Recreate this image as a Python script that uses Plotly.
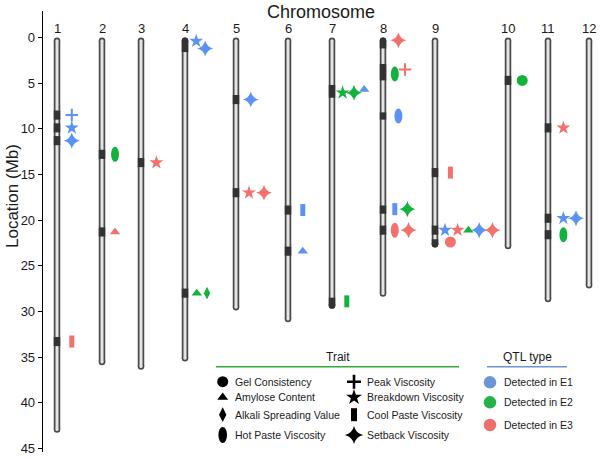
import plotly.graph_objects as go

# ---------------- data ----------------
chrom_labels = ['1', '2', '3', '4', '5', '6', '7', '8', '9', '10', '11', '12']
chrom_x = [57, 102, 141, 185, 236, 288, 332, 383, 435, 508, 548, 589]
chrom_len = [43.3, 35.9, 36.4, 35.5, 29.9, 31.2, 29.7, 28.4, 23.0, 23.2, 29.0, 27.5]

band_chr = [1, 1, 1, 1, 2, 2, 3, 4, 4, 5, 5, 6, 6, 7, 7, 8, 8, 8, 8, 8, 9, 9, 9, 10, 11, 11, 11]
band_start = [8.0, 9.4, 10.8, 32.8, 12.3, 20.8, 13.2, 0.0, 27.5, 6.3, 16.5, 18.4, 22.9, 5.2, 28.5,
              0.0, 2.9, 8.2, 18.4, 20.6, 14.3, 20.6, 22.1, 4.2, 9.4, 19.3, 21.1]
band_end = [9.0, 10.4, 11.8, 33.8, 13.3, 21.8, 14.2, 1.6, 28.5, 7.3, 17.5, 19.4, 23.9, 6.6, 29.5,
            1.2, 4.7, 9.0, 19.3, 21.6, 15.3, 21.6, 23.0, 5.2, 10.4, 20.3, 22.1]

qtl_chr = [1, 1, 1, 1,
           2, 2,
           3,
           4, 4, 4, 4,
           5, 5, 5,
           6, 6,
           7, 7, 7, 7,
           8, 8, 8, 8, 8, 8, 8, 8,
           9, 9, 9, 9, 9, 9, 9,
           10,
           11, 11, 11, 11]
qtl_pos = [8.5, 9.9, 11.3, 33.3,
           12.8, 21.3,
           13.7,
           0.4, 1.2, 28.0, 28.0,
           6.8, 17.0, 17.0,
           18.9, 23.4,
           6.05, 6.05, 5.7, 28.9,
           0.3, 4.0, 3.5, 8.6, 18.8, 18.8, 21.1, 21.1,
           14.8, 21.1, 21.1, 21.1, 21.1, 21.1, 22.4,
           4.7,
           9.9, 19.8, 19.8, 21.6]
qtl_trait = ['peak', 'breakdown', 'setback', 'cool',
             'hot', 'amylose',
             'breakdown',
             'breakdown', 'setback', 'amylose', 'alkali',
             'setback', 'breakdown', 'setback',
             'cool', 'amylose',
             'breakdown', 'setback', 'amylose', 'cool',
             'setback', 'hot', 'peak', 'hot', 'cool', 'setback', 'hot', 'setback',
             'cool', 'breakdown', 'breakdown', 'amylose', 'setback', 'setback', 'gel',
             'gel',
             'breakdown', 'breakdown', 'setback', 'hot']
qtl_env = ['E1', 'E1', 'E1', 'E3',
           'E2', 'E3',
           'E3',
           'E1', 'E1', 'E2', 'E2',
           'E1', 'E3', 'E3',
           'E1', 'E1',
           'E2', 'E2', 'E1', 'E2',
           'E3', 'E2', 'E3', 'E1', 'E1', 'E2', 'E3', 'E3',
           'E3', 'E1', 'E3', 'E2', 'E1', 'E3', 'E3',
           'E2',
           'E3', 'E1', 'E1', 'E2']
qtl_slot = [0.15, 0.15, 0.15, 0.15,
            0.0, 0.0,
            0.2,
            -0.15, 0.6, -0.1, 0.75,
            0.15, 0.0, 1.25,
            0.15, 0.15,
            -0.2, 0.75, 1.6, 0.15,
            0.2, -0.1, 0.75, 0.2, -0.1, 0.95, -0.1, 1.05,
            0.2, -0.25, 0.8, 1.7, 2.6, 3.7, 0.2,
            0.1,
            0.2, 0.2, 1.25, 0.2]

trait_names = ['Gel Consistency', 'Amylose Content', 'Alkali Spreading Value', 'Hot Paste Viscosity',
               'Peak Viscosity', 'Breakdown Viscosity', 'Cool Paste Viscosity', 'Setback Viscosity']
trait_keys = ['gel', 'amylose', 'alkali', 'hot', 'peak', 'breakdown', 'cool', 'setback']
env_keys = ['E1', 'E2', 'E3']
env_names = ['Detected in E1', 'Detected in E2', 'Detected in E3']

# ---------------- style ----------------
FONT = 'Arial, Liberation Sans, sans-serif'
TXT = '#1a1a1a'
ENV_COL = {'E1': '#5B93F2', 'E2': '#13B23C', 'E3': '#F2716C'}
ENV_LEG = {'E1': '#6C95D3', 'E2': '#26B04A', 'E3': '#EE6E69'}
SYM = {'gel': 'circle', 'amylose': 'triangle-up', 'alkali': 'diamond-tall',
       'peak': 'cross-thin', 'breakdown': 'star', 'setback': 'star-diamond'}
SIZE = {'gel': 11, 'amylose': 9, 'alkali': 9, 'peak': 9, 'breakdown': 10.5, 'setback': 11.5}
BASE_OFF, STEP = 13, 12
PX_PER_MB = 441 / 48.3
R = 3.25 / PX_PER_MB  # cap radius in Mb
L_M, T_M, PW, PH = 43, 11, 557, 441


def px_x(p):
    return (p - L_M) / PW


def px_y(p):
    return 1 - (p - T_M) / PH


fig = go.Figure()

# chromosomes: dark outer body, light inner body
ox, oy = [], []
for cx, L in zip(chrom_x, chrom_len):
    ox += [cx, cx, None]
    oy += [R, L - R, None]
fig.add_trace(go.Scatter(x=ox, y=oy, mode='lines+markers', line=dict(color='#4a4a4a', width=6.5),
                         marker=dict(color='#4a4a4a', size=6.5), hoverinfo='skip', showlegend=False))
fig.add_trace(go.Scatter(x=ox, y=oy, mode='lines+markers', line=dict(color='#e4e4e4', width=3),
                         marker=dict(color='#e4e4e4', size=3), hoverinfo='skip', showlegend=False))

# bands
bx, by, cxs, cys = [], [], [], []
for c, s, e in zip(band_chr, band_start, band_end):
    cx = chrom_x[c - 1]
    L = chrom_len[c - 1]
    s2, e2 = max(s, R), min(e, L - R)
    bx += [cx, cx, None]
    by += [s2, e2, None]
    if s < R:
        cxs.append(cx); cys.append(R)
    if e > L - R:
        cxs.append(cx); cys.append(L - R)
fig.add_trace(go.Scatter(x=bx, y=by, mode='lines', line=dict(color='#333333', width=6.5),
                         hoverinfo='skip', showlegend=False))
fig.add_trace(go.Scatter(x=cxs, y=cys, mode='markers', marker=dict(color='#333333', size=6.5),
                         hoverinfo='skip', showlegend=False))

# QTL markers
shapes = []
for tk in trait_keys:
    for ek in env_keys:
        xs, ys = [], []
        for c, p, t, e, sl in zip(qtl_chr, qtl_pos, qtl_trait, qtl_env, qtl_slot):
            if t == tk and e == ek:
                xs.append(chrom_x[c - 1] + BASE_OFF + STEP * sl)
                ys.append(p)
        if not xs:
            continue
        col = ENV_COL[ek]
        if tk in SYM:
            mk = dict(symbol=SYM[tk], size=SIZE[tk], color=col, line=dict(width=0))
            if tk == 'peak':
                mk['line'] = dict(color=col, width=2)
            fig.add_trace(go.Scatter(x=xs, y=ys, mode='markers', marker=mk,
                                     hoverinfo='skip', showlegend=False))
        else:
            for x, y in zip(xs, ys):
                if tk == 'hot':
                    shapes.append(dict(type='circle', xref='x', yref='y', xsizemode='pixel',
                                       ysizemode='pixel', xanchor=x, yanchor=y, x0=-4, x1=4,
                                       y0=-7.5, y1=7.5, fillcolor=col, line=dict(width=0)))
                else:
                    shapes.append(dict(type='rect', xref='x', yref='y', xsizemode='pixel',
                                       ysizemode='pixel', xanchor=x, yanchor=y, x0=-2.5, x1=2.5,
                                       y0=-6, y1=6, fillcolor=col, line=dict(width=0)))

annotations = []
# chromosome labels
for cx, lab in zip(chrom_x, chrom_labels):
    annotations.append(dict(x=cx, y=-1.0, xref='x', yref='y', text=lab, showarrow=False,
                            font=dict(size=13, color=TXT, family=FONT), yanchor='middle'))

# ---------------- legend (pixel-like overlay axes) ----------------
lg_rows = [381.7, 397.3, 414.7, 435.0]
col1_sym, col1_txt, col2_sym, col2_txt = 222.7, 233, 354, 365
leg_sym = {'gel': ('circle', 11), 'amylose': ('triangle-up', 9.5), 'alkali': ('diamond-tall', 10.5),
           'peak': ('cross-thin', 10), 'breakdown': ('star', 12), 'setback': ('star-diamond', 13)}
for i, (tk, nm) in enumerate(zip(trait_keys, trait_names)):
    sx = col1_sym if i < 4 else col2_sym
    tx = col1_txt if i < 4 else col2_txt
    y = lg_rows[i % 4]
    if tk in leg_sym:
        s, sz = leg_sym[tk]
        mk = dict(symbol=s, size=sz, color='black', line=dict(width=0))
        if tk == 'peak':
            mk['line'] = dict(color='black', width=2.6)
        fig.add_trace(go.Scatter(x=[sx], y=[y], xaxis='x2', yaxis='y2', mode='markers', marker=mk,
                                 hoverinfo='skip', showlegend=False))
    elif tk == 'hot':
        shapes.append(dict(type='circle', xref='x2', yref='y2', x0=sx - 4.3, x1=sx + 4.3,
                           y0=y - 8, y1=y + 8, fillcolor='black', line=dict(width=0)))
    else:
        shapes.append(dict(type='rect', xref='x2', yref='y2', x0=sx - 3, x1=sx + 3,
                           y0=y - 6.5, y1=y + 6.5, fillcolor='black', line=dict(width=0)))
    annotations.append(dict(x=tx, y=y, xref='x2', yref='y2', text=nm, showarrow=False,
                            xanchor='left', yanchor='middle', font=dict(size=10.5, color=TXT, family=FONT)))

q_rows = [382.3, 402.3, 425.0]
for ek, nm, y in zip(env_keys, env_names, q_rows):
    fig.add_trace(go.Scatter(x=[490], y=[y], xaxis='x2', yaxis='y2', mode='markers',
                             marker=dict(symbol='circle', size=12.5, color=ENV_LEG[ek]),
                             hoverinfo='skip', showlegend=False))
    annotations.append(dict(x=501.5, y=y, xref='x2', yref='y2', text=nm, showarrow=False,
                            xanchor='left', yanchor='middle', font=dict(size=10.5, color=TXT, family=FONT)))

annotations.append(dict(x=338, y=356.7, xref='x2', yref='y2', text='Trait', showarrow=False,
                        font=dict(size=12, color=TXT, family=FONT)))
annotations.append(dict(x=527, y=356.7, xref='x2', yref='y2', text='QTL type', showarrow=False,
                        font=dict(size=12, color=TXT, family=FONT)))
shapes.append(dict(type='line', xref='x2', yref='y2', x0=216, x1=459, y0=366.7, y1=366.7,
                   line=dict(color='#35A835', width=1.5)))
shapes.append(dict(type='line', xref='x2', yref='y2', x0=487, x1=567, y0=366.7, y1=366.7,
                   line=dict(color='#6C95D3', width=1.5)))

# titles (paper coordinates)
annotations.append(dict(x=px_x(321), y=px_y(12), xref='paper', yref='paper', text='Chromosome',
                        showarrow=False, font=dict(size=18, color=TXT, family=FONT),
                        xanchor='center', yanchor='middle'))
annotations.append(dict(x=px_x(12), y=px_y(196), xref='paper', yref='paper', text='Location (Mb)',
                        showarrow=False, textangle=-90, font=dict(size=17, color=TXT, family=FONT),
                        xanchor='center', yanchor='middle'))

fig.update_layout(
    width=600, height=460,
    margin=dict(l=L_M, r=600 - L_M - PW, t=T_M, b=460 - T_M - PH),
    paper_bgcolor='white', plot_bgcolor='white',
    showlegend=False, hovermode=False,
    xaxis=dict(range=[43, 600], visible=False, fixedrange=True, automargin=False),
    yaxis=dict(range=[45.4, -2.9], showgrid=False, zeroline=False, showline=True, automargin=False,
               linecolor='black', linewidth=1.3, ticks='outside', ticklen=4, tickwidth=1,
               tickcolor='black', tickvals=list(range(0, 50, 5)),
               tickfont=dict(size=13, color=TXT, family=FONT)),
    xaxis2=dict(range=[43, 600], overlaying='x', visible=False, anchor='y2'),
    yaxis2=dict(range=[452, 11], overlaying='y', visible=False, anchor='x2'),
    shapes=shapes,
    annotations=annotations,
)

fig.write_html('out.html', config={'displayModeBar': False, 'staticPlot': True},
               post_script="document.body.style.margin='0';document.body.style.overflow='hidden';")
